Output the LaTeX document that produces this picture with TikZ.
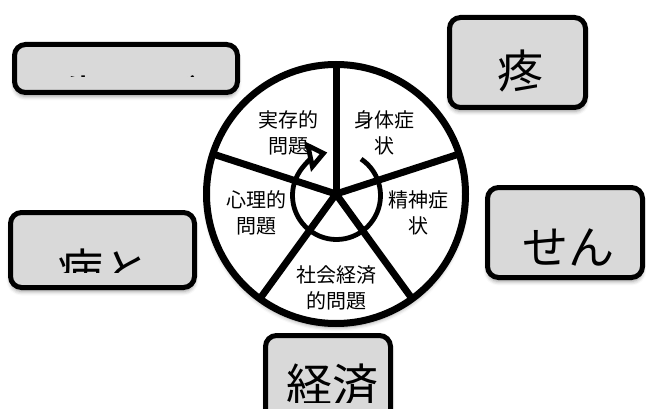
\documentclass[tikz,border=0pt]{standalone}
\usepackage{fontspec}
\newfontfamily\jp{Noto Sans CJK JP}
\usetikzlibrary{arrows.meta,shadows.blur}
\definecolor{boxgray}{RGB}{217,217,217}
\begin{document}
\begin{tikzpicture}[x=1pt,y=1pt,
  softshadow/.style={blur shadow={shadow xshift=0pt, shadow yshift=-4pt, shadow blur radius=4pt, shadow opacity=40}},
  box/.style={draw=black, line width=5pt, fill=boxgray, rounded corners=11pt, inner sep=0pt, outer sep=0pt, softshadow},
  big/.style={font=\jp\fontsize{46}{46}\selectfont, inner sep=0pt, anchor=base},
  lab/.style={font=\jp\fontsize{20}{26}\selectfont, align=center, inner sep=0pt},
  spoke/.style={line width=7pt}
]
\useasboundingbox (0,0) rectangle (646,408);

% boxes
\node[box, minimum width=223pt, minimum height=48pt] (b1) at (126,339.5) {};
\node[box, minimum width=136pt, minimum height=90pt] (b2) at (517.5,345.5) {};
\node[box, minimum width=155pt, minimum height=90pt] (b3) at (565,175.5) {};
\node[box, minimum width=184pt, minimum height=75pt] (b4) at (102.5,158) {};
\node[box, minimum width=125pt, minimum height=97.5pt] (b5) at (328,23.75) {};

% box texts (clipped as in the reference)
\begin{scope}
  \clip (0,331.5) rectangle (646,408);
  \node[big] (t1) at (152,294) {生きがい};
\end{scope}
\node[big] (t2) at (520,319.5) {疼};
\node[big] (t3) at (568,143.5) {せん};
\begin{scope}
  \clip (0,136) rectangle (646,408);
  \node[big] (t4) at (103,120.3) {病と};
\end{scope}
\begin{scope}
  \clip (0,6) rectangle (646,408);
  \node[big] (t5) at (332,6) {経済};
\end{scope}

% wheel
\node[circle, draw=black, line width=7pt, fill=white, minimum size=259pt, inner sep=0pt, outer sep=0pt, softshadow] (wheel) at (336,214) {};
\foreach \a in {90,18,162,234,306}
  \draw[spoke] (wheel.center) -- (wheel.\a);

% circular arrow
\coordinate (arcc) at (336.5,212.5);
\draw[line width=4.8pt, -{Triangle[length=20pt, width=30pt, fill=white]}]
  ([shift={(56:44)}]arcc) arc[start angle=56, end angle=-258, radius=44];

% labels
\node[lab] (l1) at (288.5,275.5) {実存的\\問題};
\node[lab] (l2) at (384,275.5) {身体症\\状};
\node[lab] (l3) at (256,195.5) {心理的\\問題};
\node[lab] (l4) at (418.5,195.5) {精神症\\状};
\node[lab] (l5) at (336,120.5) {社会経済\\的問題};
\end{tikzpicture}
\end{document}
